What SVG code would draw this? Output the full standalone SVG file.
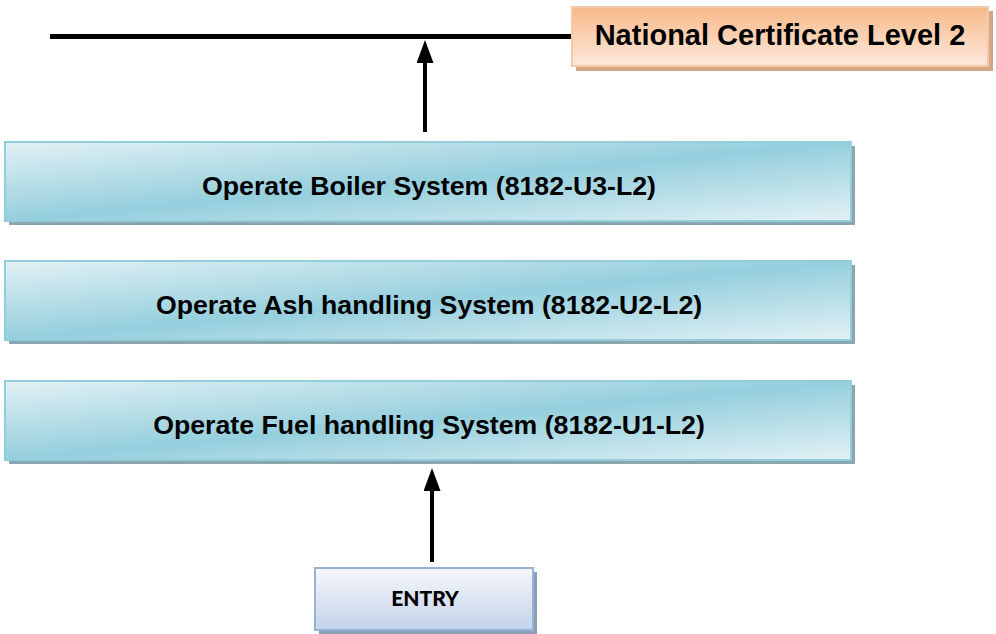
<svg xmlns="http://www.w3.org/2000/svg" width="996" height="634" viewBox="0 0 996 634">
  <style>
    .unit { fill: url(#unitFill); stroke: #93cddc; stroke-width: 2; }
    .shadow { fill: #8aa6ae; }
    .label { font-family: "Liberation Sans", Arial, sans-serif; font-weight: bold; fill: #000; text-anchor: middle; }
    .link { stroke: #000; stroke-width: 4; fill: none; }
    .rail { stroke: #000; stroke-width: 5; fill: none; }
  </style>
  <defs>
    <linearGradient id="unitFill" x1="0" y1="0" x2="1" y2="1">
      <stop offset="0" stop-color="#e2f1f5"/>
      <stop offset="0.5" stop-color="#95cfdd"/>
      <stop offset="1" stop-color="#e2f1f5"/>
    </linearGradient>
    <linearGradient id="certFill" x1="0" y1="0" x2="0" y2="1">
      <stop offset="0" stop-color="#f7b98a"/>
      <stop offset="1" stop-color="#fde9dc"/>
    </linearGradient>
    <linearGradient id="entryFill" x1="0" y1="0" x2="0" y2="1">
      <stop offset="0" stop-color="#f6f8fc"/>
      <stop offset="1" stop-color="#c3d1ea"/>
    </linearGradient>
    <marker id="arrow" markerWidth="5.75" markerHeight="4.25" refX="0" refY="2.125" orient="auto" markerUnits="strokeWidth">
      <path d="M0,0 L5.75,2.125 L0,4.25 Z" fill="#000"/>
    </marker>
  </defs>

  <g id="connectors">
    <line class="rail" x1="50" y1="36.5" x2="572" y2="36.5"/>
    <line class="link" x1="425" y1="132" x2="425" y2="63" marker-end="url(#arrow)"/>
    <line class="link" x1="432" y1="562" x2="432" y2="491" marker-end="url(#arrow)"/>
  </g>

  <g id="national-certificate">
    <rect x="576" y="11" width="417" height="60" fill="#d4a884"/>
    <rect x="572" y="7" width="416" height="59" fill="url(#certFill)" stroke="#f5c9a8" stroke-width="2"/>
    <text class="label" x="780" y="45" font-size="29">National Certificate Level 2</text>
  </g>

  <g id="boiler-system">
    <rect class="shadow" x="9" y="146" width="846" height="79"/>
    <rect class="unit" x="5" y="142" width="846" height="79"/>
    <text class="label" x="429" y="195" font-size="26.7">Operate Boiler System (8182-U3-L2)</text>
  </g>

  <g id="ash-handling">
    <rect class="shadow" x="9" y="265" width="846" height="79"/>
    <rect class="unit" x="5" y="261" width="846" height="79"/>
    <text class="label" x="429" y="314" font-size="26.7">Operate Ash handling System (8182-U2-L2)</text>
  </g>

  <g id="fuel-handling">
    <rect class="shadow" x="9" y="385" width="846" height="79"/>
    <rect class="unit" x="5" y="381" width="846" height="79"/>
    <text class="label" x="429" y="434" font-size="26.7">Operate Fuel handling System (8182-U1-L2)</text>
  </g>

  <g id="entry">
    <rect x="319" y="572" width="218" height="62" fill="#8d9db5"/>
    <rect x="315" y="568" width="218" height="62" fill="url(#entryFill)" stroke="#95b3d7" stroke-width="2"/>
    <text x="425" y="606" font-size="21" font-family="Lato, 'Liberation Sans', sans-serif" font-weight="900" text-anchor="middle">ENTRY</text>
  </g>
</svg>
